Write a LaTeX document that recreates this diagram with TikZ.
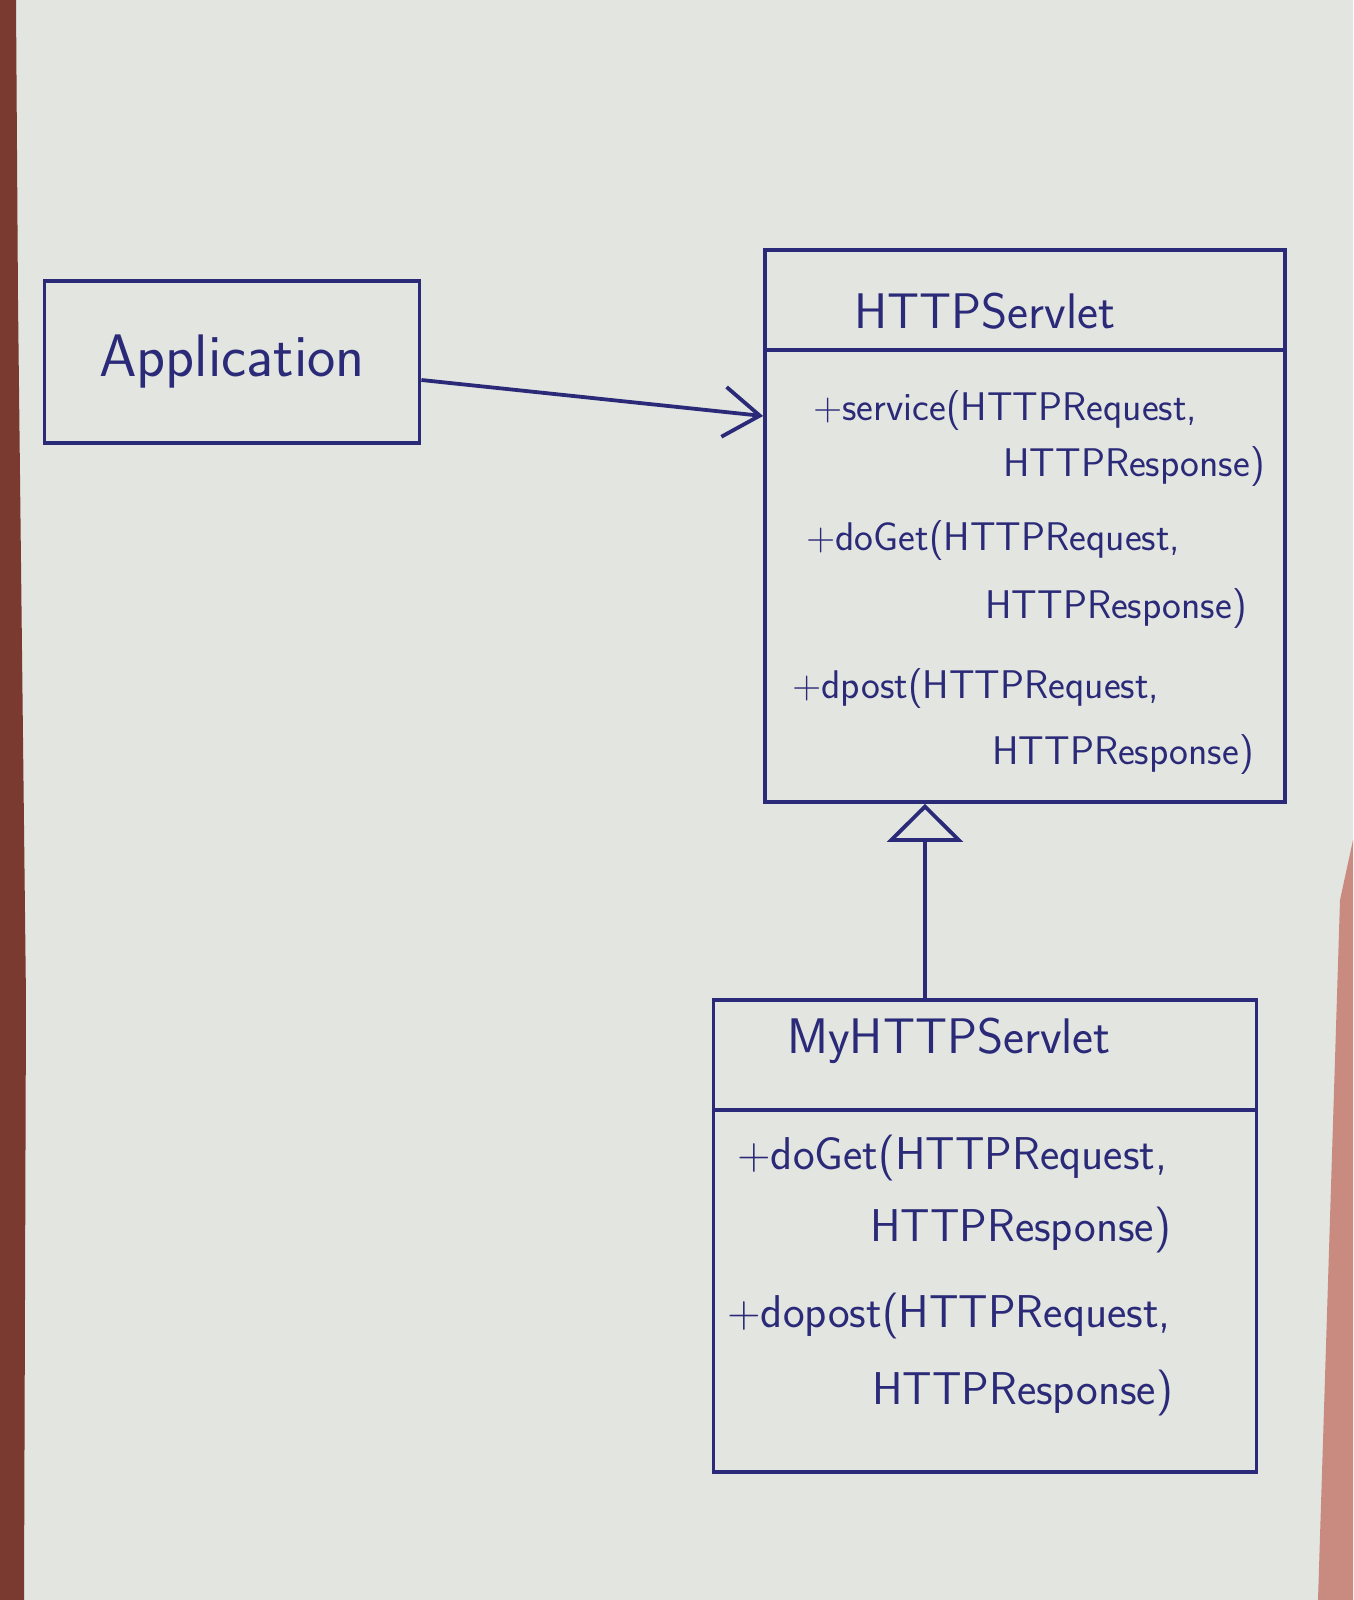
\documentclass[tikz,border=0pt]{standalone}
\usepackage{fontspec}
\usetikzlibrary{arrows.meta}
\definecolor{paper}{HTML}{E3E5E1}
\definecolor{ink}{HTML}{2B2A78}
\definecolor{edgeL}{HTML}{7A3A30}
\definecolor{edgeR}{HTML}{C98A80}
\begin{document}
\begin{tikzpicture}[x=1pt,y=-1pt,
  box/.style={draw=ink,line width=3.8pt,rectangle,inner sep=0pt},
  title/.style={text=ink,font=\sffamily\fontsize{50}{60}\selectfont,inner sep=0pt},
  meth/.style={text=ink,font=\sffamily\fontsize{40}{48}\selectfont,inner sep=0pt,anchor=west},
  methb/.style={meth,font=\sffamily\fontsize{46}{54}\selectfont},
  conn/.style={draw=ink,line width=3.8pt}]
\useasboundingbox (0,0) rectangle (1353,1600);
\fill[paper] (0,0) rectangle (1353,1600);
\fill[edgeL] (0,0) -- (16,0) -- (18,300) -- (26,1000) -- (24,1600) -- (0,1600) -- cycle;
\fill[edgeR] (1353,840) -- (1340,900) -- (1318,1600) -- (1353,1600) -- cycle;

% Application
\node[box,minimum width=375pt,minimum height=162pt,
  text=ink,font=\sffamily\fontsize{60}{72}\selectfont] (app) at (232,362) {Application};

% HTTPServlet
\node[box,minimum width=520pt,minimum height=552pt] (hs) at (1025,526) {};
\node[title] (hst) at (985,311) {HTTPServlet};
\coordinate (hsd) at (0,350);
\draw[conn] (hs.west |- hsd) -- (hs.east |- hsd);
\node[meth] (m1) at (813,411) {+service(HTTPRequest,};
\node[meth] (m2) at (1003,467) {HTTPResponse)};
\node[meth] (m3) at (806,541) {+doGet(HTTPRequest,};
\node[meth] (m4) at (985,609) {HTTPResponse)};
\node[meth] (m5) at (792,689) {+dpost(HTTPRequest,};
\node[meth] (m6) at (992,755) {HTTPResponse)};

% MyHTTPServlet
\node[box,minimum width=543pt,minimum height=472pt] (my) at (985,1236) {};
\node[title] (myt) at (949,1041) {MyHTTPServlet};
\coordinate (myd) at (0,1110);
\draw[conn] (my.west |- myd) -- (my.east |- myd);
\node[methb] (n1) at (737,1158) {+doGet(HTTPRequest,};
\node[methb] (n2) at (870,1230) {HTTPResponse)};
\node[methb] (n3) at (727,1316) {+dopost(HTTPRequest,};
\node[methb] (n4) at (872,1393) {HTTPResponse)};

% connectors
\coordinate (asrc) at (0,380);
\coordinate (adst) at (0,416);
\draw[conn,-{Straight Barb[length=36pt,width=50pt,line width=3.8pt]}]
  (app.east |- asrc) -- (hs.west |- adst);
\coordinate (inh) at (925,0);
\draw[conn,-{Triangle[open,length=38pt,width=76pt,line width=3.8pt]}]
  (my.north -| inh) -- (hs.south -| inh);
\end{tikzpicture}
\end{document}
